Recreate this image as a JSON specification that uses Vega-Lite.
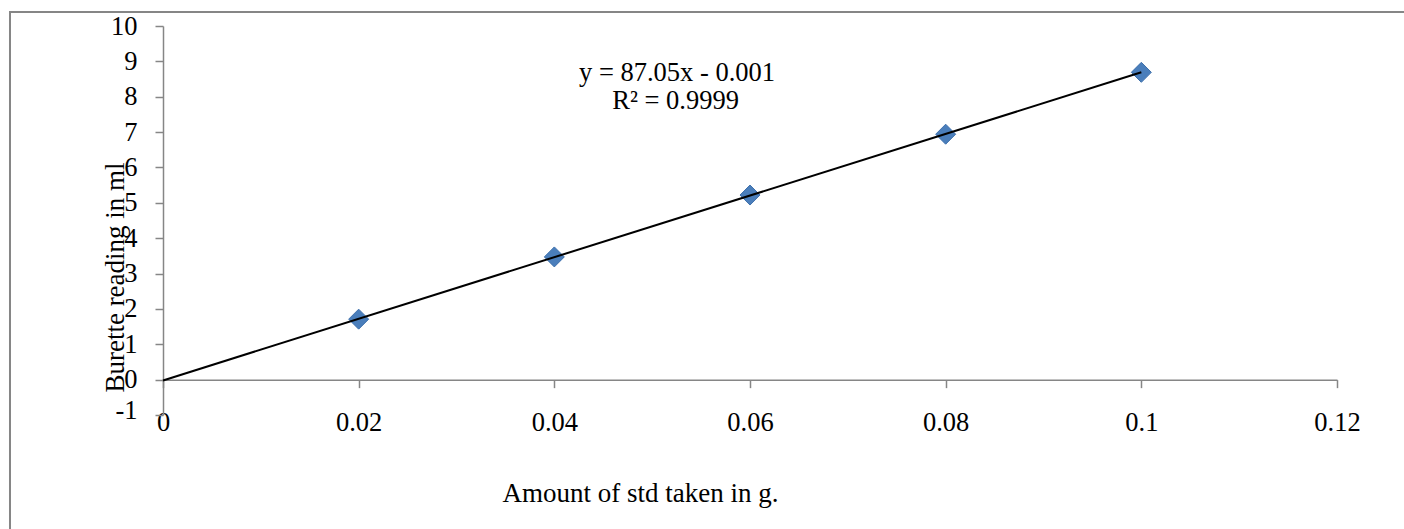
{
  "$schema": "https://vega.github.io/schema/vega-lite/v6.json",
  "width": 1174,
  "height": 389,
  "autosize": {"type": "none"},
  "padding": {"left": 163, "top": 26, "right": 67, "bottom": 114},
  "background": "white",
  "config": {
    "view": {"stroke": null},
    "font": "Liberation Serif",
    "axis": {
      "grid": false,
      "domainColor": "#868686",
      "domainWidth": 1.5,
      "tickColor": "#868686",
      "tickWidth": 1.5,
      "tickSize": 8,
      "labelFont": "Liberation Serif",
      "labelFontSize": 26.5,
      "labelColor": "black",
      "labelOverlap": false,
      "labelFlush": false,
      "titleFont": "Liberation Serif",
      "titleFontSize": 27,
      "titleFontWeight": "normal",
      "titleColor": "black"
    }
  },
  "datasets": {
    "points": [
      {"amount": 0.02, "reading": 1.71},
      {"amount": 0.04, "reading": 3.47},
      {"amount": 0.06, "reading": 5.22},
      {"amount": 0.08, "reading": 6.94},
      {"amount": 0.1, "reading": 8.69}
    ],
    "single": [{}]
  },
  "layer": [
    {
      "data": {"name": "points"},
      "mark": {"type": "point", "shape": "diamond", "filled": true, "size": 400, "color": "#4A7EBB", "stroke": "#3E70AC", "strokeWidth": 1, "opacity": 1},
      "encoding": {
        "x": {
          "field": "amount",
          "type": "quantitative",
          "scale": {"domain": [0, 0.12], "nice": false, "zero": false},
          "axis": {
            "values": [0, 0.02, 0.04, 0.06, 0.08, 0.1, 0.12],
            "tickCount": 50,
            "format": "~g",
            "offset": -35.36,
            "labelPadding": 22,
            "labelOverlap": false,
            "labelFlush": false,
            "title": "Amount of std taken in g.",
            "titleX": 477,
            "titleY": 122,
            "titleAlign": "center",
            "titleBaseline": "alphabetic",
            "titleAnchor": null
          }
        },
        "y": {
          "field": "reading",
          "type": "quantitative",
          "scale": {"domain": [-1, 10], "nice": false, "zero": false},
          "axis": {
            "values": [-1, 0, 1, 2, 3, 4, 5, 6, 7, 8, 9, 10],
            "tickCount": 50,
            "labelExpr": "'' + datum.value",
            "labelPadding": 18,
            "labelOverlap": false,
            "labelFlush": false,
            "labelBound": false,
            "labelOffset": {"condition": {"test": "datum.value == -1", "value": -5}, "value": 0},
            "title": "Burette reading in ml",
            "titleX": -40,
            "titleY": 251,
            "titleAngle": -90,
            "titleAlign": "center",
            "titleBaseline": "alphabetic",
            "titleAnchor": null
          }
        }
      }
    },
    {
      "data": {"name": "points"},
      "transform": [{"regression": "reading", "on": "amount", "extent": [0, 0.1]}],
      "mark": {"type": "line", "color": "black", "strokeWidth": 2},
      "encoding": {
        "x": {"field": "amount", "type": "quantitative"},
        "y": {"field": "reading", "type": "quantitative"}
      }
    },
    {
      "data": {"name": "single"},
      "mark": {"type": "text", "font": "Liberation Serif", "fontSize": 26.5, "color": "black", "align": "center", "baseline": "alphabetic"},
      "encoding": {
        "x": {"datum": 0.05254, "type": "quantitative"},
        "y": {"datum": 8.444, "type": "quantitative"},
        "text": {"value": "y = 87.05x - 0.001"}
      }
    },
    {
      "data": {"name": "single"},
      "mark": {"type": "text", "font": "Liberation Serif", "fontSize": 26.5, "color": "black", "align": "center", "baseline": "alphabetic"},
      "encoding": {
        "x": {"datum": 0.0524, "type": "quantitative"},
        "y": {"datum": 7.653, "type": "quantitative"},
        "text": {"value": "R² = 0.9999"}
      }
    },
    {
      "data": {"name": "single"},
      "mark": {"type": "rect", "fill": null, "stroke": "#868686", "strokeWidth": 2, "clip": false},
      "encoding": {
        "x": {"datum": -0.01564, "type": "quantitative"},
        "x2": {"datum": 0.135},
        "y": {"datum": 10.396, "type": "quantitative"},
        "y2": {"datum": -5}
      }
    }
  ]
}
